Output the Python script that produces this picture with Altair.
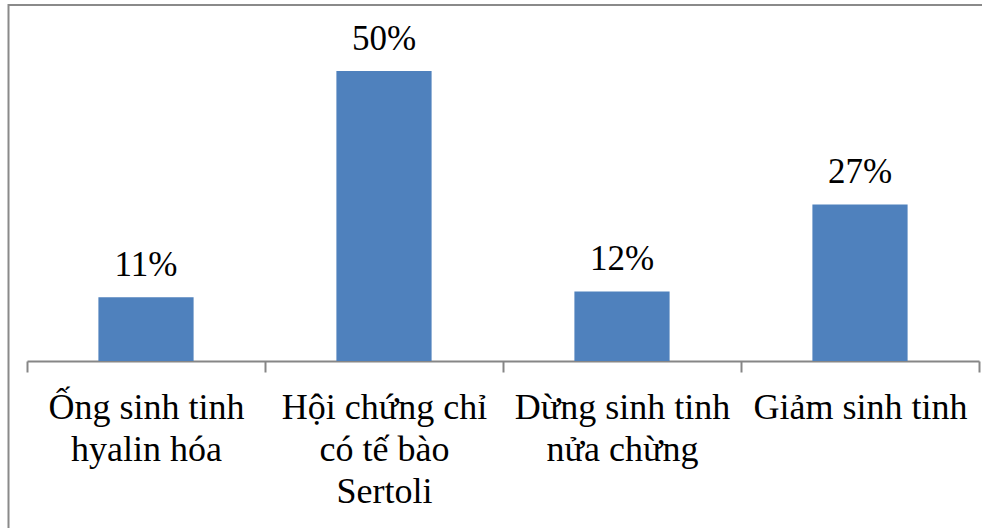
import altair as alt
import pandas as pd

categories = [
    "Ống sinh tinh\nhyalin hóa",
    "Hội chứng chỉ\ncó tế bào\nSertoli",
    "Dừng sinh tinh\nnửa chừng",
    "Giảm sinh tinh",
]
values = [0.11, 0.50, 0.12, 0.27]

df = pd.DataFrame({"category": categories, "value": values})

FONT = "Liberation Serif"
GRAY = "#868686"

x_enc = alt.X(
    "category:N",
    sort=categories,
    scale=alt.Scale(paddingInner=0, paddingOuter=0),
    axis=alt.Axis(
        title=None,
        labelAngle=0,
        labelExpr="split(datum.label, '\\n')",
        tickBand="extent",
        labelFont=FONT,
        labelFontSize=36,
        labelColor="black",
        labelLineHeight=42,
        labelPadding=18,
        labelOverlap=False,
        labelBound=False,
        labelLimit=0,
        domainColor=GRAY,
        domainWidth=2,
        tickColor=GRAY,
        tickWidth=2,
        tickSize=11,
        grid=False,
    ),
)
y_enc = alt.Y("value:Q", scale=alt.Scale(domain=[0, 0.6]), axis=None)

base = alt.Chart(df)

bars = base.mark_bar(color="#4F81BD", width={"band": 0.4}).encode(x=x_enc, y=y_enc)

labels = base.mark_text(
    font=FONT, fontSize=35, color="black", baseline="alphabetic", dy=-21
).encode(x=x_enc, y=y_enc, text=alt.Text("value:Q", format=".0%"))

frame = alt.Chart(pd.DataFrame({"f": [0]})).mark_rect(
    fill=None, stroke="#8a8a8a", strokeWidth=2
).encode(
    x=alt.value(-18.5), x2=alt.value(1100), y=alt.value(-8), y2=alt.value(700)
)

chart = (
    alt.layer(frame, bars, labels)
    .properties(
        width=952,
        height=348,
        autosize=alt.AutoSizeParams(type="none"),
        padding={"left": 27, "top": 13, "right": 3, "bottom": 167},
        background="white",
    )
    .configure_view(stroke=None)
)

chart.save("out.html", embed_options={"renderer": "svg", "actions": False})
